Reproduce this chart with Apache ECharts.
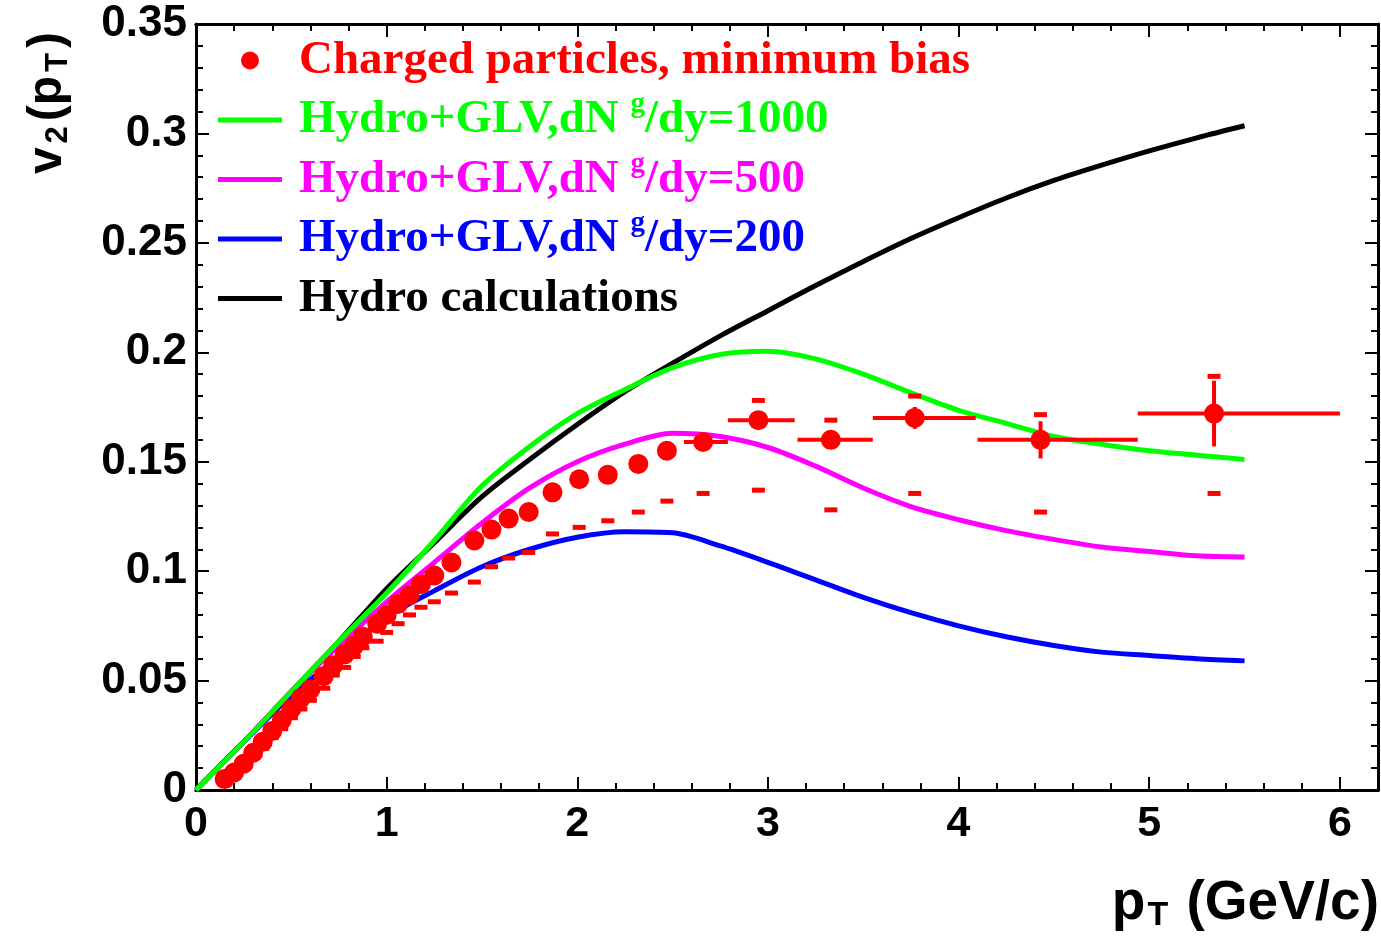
<!DOCTYPE html>
<html><head><meta charset="utf-8">
<script src="https://cdn.jsdelivr.net/npm/echarts@6/dist/echarts.min.js"></script>
<style>html,body{margin:0;padding:0;background:#fff}#c{width:1381px;height:937px}</style>
</head><body><div id="c"></div>
<script>
// ---------------- data ----------------
const seriesNames = [
  'Charged particles, minimum bias',
  'Hydro+GLV,dNg/dy=1000',
  'Hydro+GLV,dNg/dy=500',
  'Hydro+GLV,dNg/dy=200',
  'Hydro calculations'
];
const xTickLabels = [0, 1, 2, 3, 4, 5, 6];
const yTickLabels = [0, 0.05, 0.1, 0.15, 0.2, 0.25, 0.3, 0.35];

// measured points
const dataPt = [0.15,0.20,0.25,0.30,0.35,0.40,0.45,0.50,0.55,0.60,0.67,0.72,0.78,0.83,0.875,0.95,1.00,1.06,1.12,1.18,1.25,1.34,1.46,1.55,1.64,1.745,1.87,2.01,2.16,2.32,2.47,2.66,2.95,3.33,3.77,4.43,5.34];
const dataV2 = [0.005,0.008,0.012,0.017,0.022,0.027,0.032,0.037,0.042,0.046,0.052,0.057,0.062,0.066,0.070,0.076,0.080,0.085,0.089,0.094,0.098,0.104,0.114,0.119,0.124,0.127,0.136,0.142,0.144,0.149,0.155,0.159,0.169,0.160,0.170,0.160,0.172];
const dataXLo = [null,null,null,null,null,null,null,null,null,null,null,null,null,null,null,null,null,null,null,null,null,null,null,null,null,null,null,null,null,null,null,2.56,2.79,3.155,3.55,4.10,4.94];
const dataXHi = [null,null,null,null,null,null,null,null,null,null,null,null,null,null,null,null,null,null,null,null,null,null,null,null,null,null,null,null,null,null,null,2.79,3.14,3.55,4.09,4.94,6.0];
const dataStatErr = [0,0,0,0,0,0,0,0,0,0,0,0,0,0,0,0,0,0,0,0,0,0,0,0,0,0,0,0,0,0,0,0.002,0.004,0.004,0.005,0.0085,0.015];
const dataSysLo = [0.004,0.007,0.010,0.015,0.019,0.024,0.028,0.033,0.037,0.041,0.0465,0.0525,0.056,0.061,0.065,0.068,0.072,0.076,0.080,0.0835,0.086,0.090,0.095,0.102,0.106,0.1085,0.117,0.120,0.123,0.127,0.132,0.1355,0.137,0.128,0.1355,0.127,0.1355];
const dataSysUp = [0.006,0.009,0.013,0.018,0.024,0.029,0.034,0.039,0.044,0.048,0.054,0.059,0.064,0.068,0.072,0.078,0.082,0.087,0.091,0.096,0.100,0.106,0.116,0.121,0.126,0.129,0.138,0.144,0.146,0.151,0.157,0.161,0.178,0.169,0.180,0.1715,0.189];

// model curves
const curvePt = [0,0.25,0.5,0.75,1.0,1.25,1.5,1.75,2.0,2.25,2.5,2.75,3.0,3.25,3.5,3.75,4.0,4.25,4.5,4.75,5.0,5.25,5.5];
const v2Glv1000 = [0,0.022,0.045,0.068,0.090,0.114,0.139,0.157,0.172,0.183,0.193,0.199,0.2005,0.197,0.190,0.1815,0.1735,0.1675,0.1615,0.158,0.155,0.153,0.151];
const v2Glv500  = [0,0.022,0.045,0.066,0.086,0.104,0.122,0.138,0.150,0.158,0.163,0.1615,0.1565,0.148,0.138,0.1295,0.1235,0.1185,0.1145,0.111,0.109,0.107,0.1065];
const v2Glv200  = [0,0.022,0.043,0.061,0.079,0.091,0.102,0.110,0.1155,0.118,0.1175,0.1115,0.104,0.096,0.088,0.081,0.075,0.070,0.066,0.063,0.0615,0.060,0.059];
const v2Hydro   = [0,0.022,0.045,0.068,0.092,0.113,0.134,0.151,0.167,0.182,0.195,0.2075,0.219,0.2305,0.2415,0.252,0.2615,0.2705,0.2785,0.2855,0.292,0.298,0.3035];

// ---------------- chart ----------------
const RED = '#ff0000', GREEN = '#00ff00', MAG = '#ff00ff', BLUE = '#0000ff', BLACK = '#000000';
const zip = (xs, ys) => xs.map((x, i) => [x, ys[i]]);
const pointRows = dataPt.map((x, i) => [
  x, dataV2[i],
  dataXLo[i] == null ? x : dataXLo[i],
  dataXHi[i] == null ? x : dataXHi[i],
  dataStatErr[i], dataSysLo[i], dataSysUp[i]
]);

const SANS = '"Liberation Sans", Arial, Helvetica, sans-serif';
const SERIF = '"Liberation Serif", "Times New Roman", serif';

function renderErr(params, api) {
  const x = api.value(0), y = api.value(1), xl = api.value(2), xh = api.value(3), e = api.value(4);
  const children = [];
  const st = { stroke: RED, lineWidth: 4 };
  if (xh > xl) {
    const a = api.coord([xl, y]), b = api.coord([xh, y]);
    children.push({ type: 'line', shape: { x1: a[0], y1: a[1], x2: b[0], y2: b[1] }, style: st });
  }
  if (e > 0) {
    const a = api.coord([x, y - e]), b = api.coord([x, y + e]);
    children.push({ type: 'line', shape: { x1: a[0], y1: a[1], x2: b[0], y2: b[1] }, style: st });
  }
  return { type: 'group', children };
}
function renderSys(params, api) {
  const x = api.value(0), lo = api.value(5), up = api.value(6);
  const w = 13, h = 5;
  const a = api.coord([x, lo]), b = api.coord([x, up]);
  return { type: 'group', children: [
    { type: 'rect', shape: { x: a[0] - w / 2, y: a[1] - h / 2, width: w, height: h }, style: { fill: RED } },
    { type: 'rect', shape: { x: b[0] - w / 2, y: b[1] - h / 2, width: w, height: h }, style: { fill: RED } }
  ]};
}

const axisLineStyle = { color: BLACK, width: 3 };
const isInt = v => Math.abs(v - Math.round(v)) < 1e-6;

function xAxisDef(pos, major, labels) {
  return {
    type: 'value', position: pos, min: 0, max: 6.2,
    interval: major ? 1 : 0.2,
    axisLine: { show: true, onZero: false, lineStyle: axisLineStyle },
    axisTick: { show: true, inside: true, length: major ? 13 : 7, lineStyle: { color: BLACK, width: 2 } },
    axisLabel: labels ? {
      show: true, interval: 0, margin: 13, color: BLACK,
      fontFamily: SANS, fontWeight: 'bold', fontSize: 43,
      formatter: v => (isInt(v) && xTickLabels.indexOf(Math.round(v)) >= 0) ? String(Math.round(v)) : ''
    } : { show: false },
    splitLine: { show: false }
  };
}
function yAxisDef(pos, labels) {
  return {
    type: 'value', position: pos, min: 0, max: 0.35, interval: 0.05,
    axisLine: { show: true, onZero: false, lineStyle: axisLineStyle },
    axisTick: { show: true, inside: true, length: 13, lineStyle: { color: BLACK, width: 2 } },
    minorTick: { show: true, splitNumber: 5, length: 7, lineStyle: { color: BLACK, width: 2 } },
    axisLabel: labels ? {
      show: true, margin: 9, color: BLACK, fontFamily: SANS, fontWeight: 'bold', fontSize: 44,
      formatter: v => { const r = yTickLabels.find(t => Math.abs(t - v) < 1e-9); return r === undefined ? '' : String(r); }
    } : { show: false },
    splitLine: { show: false }
  };
}

const legendRich = {};
[['r', RED], ['g', GREEN], ['m', MAG], ['b', BLUE], ['k', BLACK]].forEach(([k, c]) => {
  legendRich[k] = { color: c, fontFamily: SERIF, fontWeight: 'bold', fontSize: 47, lineHeight: 59 };
  legendRich[k + 's'] = { color: c, fontFamily: SERIF, fontWeight: 'bold', fontSize: 29, lineHeight: 36, verticalAlign: 'top' };
});
legendRich.sp = { width: 12, height: 59, lineHeight: 59, fontSize: 10 };
function legendFmt(name) {
  if (name === seriesNames[0]) return '{sp| }{r|' + name + '}';
  if (name === seriesNames[4]) return '{sp| }{k|' + name + '}';
  const k = name === seriesNames[1] ? 'g' : name === seriesNames[2] ? 'm' : 'b';
  const num = name.split('=')[1];
  return '{sp| }{' + k + '|Hydro+GLV,dN }{' + k + 's|g}{' + k + '|/dy=' + num + '}';
}
const lineIcon = 'path://M0 0H64V5H0Z';

const option = {
  animation: false,
  backgroundColor: '#ffffff',
  grid: { left: 196, right: 3, top: 24, bottom: 147, containLabel: false },
  xAxis: [
    xAxisDef('bottom', false, true),
    xAxisDef('bottom', true, false),
    xAxisDef('top', false, false),
    xAxisDef('top', true, false)
  ],
  yAxis: [ yAxisDef('left', true), yAxisDef('right', false) ],
  legend: {
    orient: 'vertical', left: 213, top: 26, padding: 5, itemGap: 0.5,
    itemWidth: 64, itemHeight: 18, selectedMode: false, symbolKeepAspect: true,
    data: [
      { name: seriesNames[0], icon: 'circle' },
      { name: seriesNames[1], icon: lineIcon },
      { name: seriesNames[2], icon: lineIcon },
      { name: seriesNames[3], icon: lineIcon },
      { name: seriesNames[4], icon: lineIcon }
    ],
    formatter: legendFmt,
    textStyle: { rich: legendRich }
  },
  graphic: [
    {
      type: 'text', x: 48, y: 103, rotation: Math.PI / 2,
      style: {
        text: '{a|v}{s|2}{a|(p}{s|T}{a|)}', align: 'center', verticalAlign: 'middle',
        rich: {
          a: { fontFamily: SANS, fontWeight: 'bold', fontSize: 48, fill: BLACK, lineHeight: 52 },
          s: { fontFamily: SANS, fontWeight: 'bold', fontSize: 31, fill: BLACK, lineHeight: 12, verticalAlign: 'bottom', padding: [0, 5, 0, 4] }
        }
      }
    },
    {
      type: 'text', x: 1379, y: 904,
      style: {
        text: '{a|p}{s|T}{a| (GeV/c)}', align: 'right', verticalAlign: 'middle',
        rich: {
          a: { fontFamily: SANS, fontWeight: 'bold', fontSize: 55, fill: BLACK, lineHeight: 58 },
          s: { fontFamily: SANS, fontWeight: 'bold', fontSize: 34, fill: BLACK, lineHeight: 12, verticalAlign: 'bottom', padding: [0, 3, 0, 2] }
        }
      }
    }
  ],
  series: [
    { name: seriesNames[4], type: 'line', data: zip(curvePt, v2Hydro), smooth: 0.3, symbol: 'none', lineStyle: { color: BLACK, width: 5 }, itemStyle: { color: BLACK }, z: 2 },
    { name: seriesNames[3], type: 'line', data: zip(curvePt, v2Glv200), smooth: 0.3, symbol: 'none', lineStyle: { color: BLUE, width: 5 }, itemStyle: { color: BLUE }, z: 2 },
    { name: seriesNames[2], type: 'line', data: zip(curvePt, v2Glv500), smooth: 0.3, symbol: 'none', lineStyle: { color: MAG, width: 5 }, itemStyle: { color: MAG }, z: 2 },
    { name: seriesNames[1], type: 'line', data: zip(curvePt, v2Glv1000), smooth: 0.3, symbol: 'none', lineStyle: { color: GREEN, width: 5 }, itemStyle: { color: GREEN }, z: 2 },
    { name: 'sys', type: 'custom', renderItem: renderSys, data: pointRows, encode: { x: 0, y: 1 }, z: 3, silent: true },
    { name: 'err', type: 'custom', renderItem: renderErr, data: pointRows, encode: { x: 0, y: 1 }, z: 3, silent: true },
    { name: seriesNames[0], type: 'scatter', data: pointRows.map(r => [r[0], r[1]]), symbol: 'circle', symbolSize: 20, itemStyle: { color: RED, opacity: 1 }, z: 4 }
  ]
};
const chart = echarts.init(document.getElementById('c'), null, { renderer: 'canvas' });
chart.setOption(option);
</script></body></html>
